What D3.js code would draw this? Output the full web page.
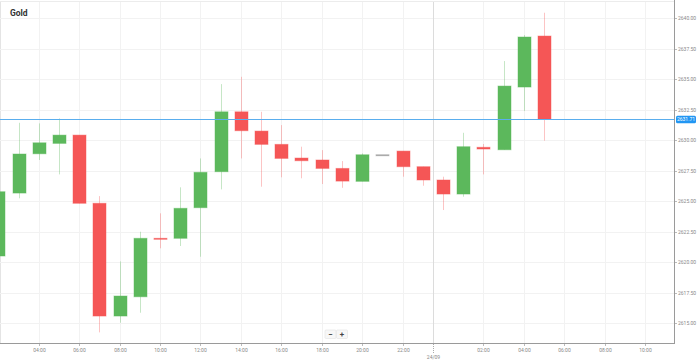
<!DOCTYPE html>
<html>
<head>
<meta charset="utf-8">
<script src="https://cdn.jsdelivr.net/npm/d3@7"></script>
<style>
  body { margin: 0; background: #fff; }
  svg { display: block; font-family: Roboto, "Open Sans", sans-serif; }
</style>
</head>
<body>
<svg id="chart" width="699" height="362"></svg>
<script>
// hourly candles, 23/09 02:00 -> 24/09 05:00
const times = [
  "2024-09-23T02:00", "2024-09-23T03:00", "2024-09-23T04:00", "2024-09-23T05:00",
  "2024-09-23T06:00", "2024-09-23T07:00", "2024-09-23T08:00", "2024-09-23T09:00",
  "2024-09-23T10:00", "2024-09-23T11:00", "2024-09-23T12:00", "2024-09-23T13:00",
  "2024-09-23T14:00", "2024-09-23T15:00", "2024-09-23T16:00", "2024-09-23T17:00",
  "2024-09-23T18:00", "2024-09-23T19:00", "2024-09-23T20:00", "2024-09-23T21:00",
  "2024-09-23T22:00", "2024-09-23T23:00", "2024-09-24T00:00", "2024-09-24T01:00",
  "2024-09-24T02:00", "2024-09-24T03:00", "2024-09-24T04:00", "2024-09-24T05:00"
];
const openP = [2620.52, 2625.68, 2628.90, 2629.75, 2630.43, 2624.84, 2615.60, 2617.18,
  2621.97, 2621.97, 2624.48, 2627.43, 2632.34, 2630.76, 2629.67, 2628.55,
  2628.39, 2627.70, 2626.64, 2628.82, 2629.12, 2627.84, 2626.75, 2625.60,
  2629.43, 2629.23, 2634.37, 2638.55];
const highP = [2625.90, 2631.44, 2631.39, 2631.80, 2630.43, 2625.43, 2620.08, 2622.51,
  2624.02, 2626.15, 2628.52, 2634.61, 2635.21, 2632.34, 2631.25, 2629.48,
  2629.20, 2628.30, 2628.93, 2628.82, 2629.12, 2627.84, 2627.02, 2630.62,
  2629.70, 2636.50, 2638.63, 2640.46];
const lowP = [2620.30, 2625.25, 2628.39, 2627.21, 2624.84, 2614.26, 2615.05, 2615.87,
  2621.15, 2621.34, 2620.46, 2625.98, 2628.52, 2626.20, 2626.97, 2626.89,
  2626.42, 2626.11, 2626.64, 2628.82, 2627.02, 2626.28, 2624.29, 2625.38,
  2627.21, 2629.23, 2632.40, 2629.97];
const closeP = [2625.79, 2628.88, 2629.80, 2630.43, 2624.84, 2615.60, 2617.24, 2621.97,
  2621.90, 2624.43, 2627.38, 2632.34, 2630.79, 2629.67, 2628.52, 2628.33,
  2627.70, 2626.66, 2628.82, 2628.82, 2627.84, 2626.75, 2625.60, 2629.48,
  2629.29, 2634.45, 2638.47, 2631.71];

const yTicks = [2615, 2617.5, 2620, 2622.5, 2625, 2627.5, 2630, 2632.5, 2635, 2637.5, 2640];
const xTicks = [
  "2024-09-23T04:00", "2024-09-23T06:00", "2024-09-23T08:00", "2024-09-23T10:00",
  "2024-09-23T12:00", "2024-09-23T14:00", "2024-09-23T16:00", "2024-09-23T18:00",
  "2024-09-23T20:00", "2024-09-23T22:00", "2024-09-24T02:00", "2024-09-24T04:00",
  "2024-09-24T06:00", "2024-09-24T08:00", "2024-09-24T10:00"
];
const dayMark = { time: "2024-09-23T23:30", label: "24/09" };
const lastPrice = 2631.71;

const svg = d3.select("#chart");
const plot = { left: 0, right: 674, top: 2, bottom: 343 };

const parse = d3.timeParse("%Y-%m-%dT%H:%M");
const data = times.map((t, i) => ({
  t: parse(t), o: openP[i], h: highP[i], l: lowP[i], c: closeP[i]
}));

const x = d3.scaleTime()
  .domain([parse("2024-09-23T02:05"), parse("2024-09-24T11:26")])
  .range([plot.left, plot.right]);
const y = d3.scaleLinear()
  .domain([2613.39, 2641.34])
  .range([plot.bottom, plot.top]);

const candleW = 13;
const green = "#5cb85c", red = "#f55656", flat = "#9e9e9e";
const colorOf = (d) => (d.c > d.o ? green : d.c < d.o ? red : flat);

svg.append("defs").append("clipPath").attr("id", "clip")
  .append("rect")
  .attr("x", plot.left).attr("y", plot.top)
  .attr("width", plot.right - plot.left).attr("height", plot.bottom - plot.top);

// frame
svg.append("line")
  .attr("x1", 0).attr("x2", plot.right).attr("y1", 1.5).attr("y2", 1.5)
  .attr("stroke", "#ececec");
svg.append("line")
  .attr("x1", 0.5).attr("x2", 0.5).attr("y1", plot.top).attr("y2", plot.bottom)
  .attr("stroke", "#e4e4e4");

// grid
const grid = svg.append("g");
grid.selectAll("line.h")
  .data(yTicks)
  .join("line")
  .attr("class", "h")
  .attr("x1", plot.left).attr("x2", plot.right)
  .attr("y1", (d) => Math.round(y(d)) + 0.5).attr("y2", (d) => Math.round(y(d)) + 0.5)
  .attr("stroke", "#f2f2f2");
grid.selectAll("line.v")
  .data(xTicks.map(parse))
  .join("line")
  .attr("class", "v")
  .attr("x1", (d) => Math.round(x(d)) + 0.5).attr("x2", (d) => Math.round(x(d)) + 0.5)
  .attr("y1", plot.top).attr("y2", plot.bottom)
  .attr("stroke", "#f2f2f2");
grid.append("line")
  .attr("x1", Math.round(x(parse(dayMark.time))) + 0.5)
  .attr("x2", Math.round(x(parse(dayMark.time))) + 0.5)
  .attr("y1", plot.top).attr("y2", plot.bottom)
  .attr("stroke", "#dcdcdc");

// title
svg.append("text")
  .attr("x", 10).attr("y", 15.5)
  .attr("font-size", 8.5).attr("font-weight", "bold").attr("fill", "#333")
  .text("Gold");

// candles
const candles = svg.append("g").attr("clip-path", "url(#clip)")
  .selectAll("g")
  .data(data)
  .join("g");

candles.append("line")
  .attr("x1", (d) => Math.round(x(d.t)) + 0.5)
  .attr("x2", (d) => Math.round(x(d.t)) + 0.5)
  .attr("y1", (d) => y(d.h))
  .attr("y2", (d) => y(d.l))
  .attr("stroke", colorOf)
  .attr("stroke-opacity", 0.35);

candles.append("rect")
  .attr("x", (d) => Math.round(x(d.t)) - Math.floor(candleW / 2))
  .attr("y", (d) => y(Math.max(d.o, d.c)))
  .attr("width", candleW)
  .attr("height", (d) => Math.max(1, y(Math.min(d.o, d.c)) - y(Math.max(d.o, d.c))))
  .attr("fill", colorOf)
  .attr("stroke", colorOf)
  .attr("stroke-opacity", 0.45)
  .attr("stroke-width", 1);

// last price line
svg.append("rect")
  .attr("x", plot.left).attr("width", plot.right - plot.left)
  .attr("y", Math.round(y(lastPrice))).attr("height", 1)
  .attr("fill", "#5aaeee");

// y axis on the right
const yAxis = svg.append("g")
  .attr("transform", `translate(${plot.right},0)`);
yAxis.append("line")
  .attr("x1", 0.5).attr("x2", 0.5).attr("y1", 0).attr("y2", plot.bottom)
  .attr("stroke", "#9a9a9a");
const yt = yAxis.selectAll("g.tick")
  .data(yTicks)
  .join("g")
  .attr("class", "tick")
  .attr("transform", (d) => `translate(0,${Math.round(y(d)) + 0.5})`);
yt.append("line").attr("x1", 1).attr("x2", 3).attr("stroke", "#bbb");
yt.append("text")
  .attr("x", 4).attr("dy", "0.35em")
  .attr("font-size", 5).attr("fill", "#888")
  .text((d) => d3.format(".2f")(d));

// last price badge
const badge = yAxis.append("g")
  .attr("transform", `translate(0,${Math.round(y(lastPrice)) + 0.5})`);
badge.append("rect")
  .attr("x", 2).attr("y", -3.8).attr("width", 20).attr("height", 7.6).attr("rx", 1.5)
  .attr("fill", "#2196f3");
badge.append("text")
  .attr("x", 12).attr("dy", "0.35em").attr("text-anchor", "middle")
  .attr("font-size", 5).attr("fill", "#fff")
  .text(d3.format(".2f")(lastPrice));

// x axis
const xAxis = svg.append("g").attr("transform", `translate(0,${plot.bottom})`);
xAxis.append("line")
  .attr("x1", 0).attr("x2", plot.right + 1).attr("y1", 0.5).attr("y2", 0.5)
  .attr("stroke", "#9a9a9a");
const xt = xAxis.selectAll("g.tick")
  .data(xTicks.map(parse))
  .join("g")
  .attr("class", "tick")
  .attr("transform", (d) => `translate(${Math.round(x(d)) + 0.5},0)`);
xt.append("line").attr("y1", 1).attr("y2", 3).attr("stroke", "#bbb");
xt.append("text")
  .attr("y", 8.5).attr("text-anchor", "middle")
  .attr("font-size", 5).attr("fill", "#888")
  .text(d3.timeFormat("%H:%M"));

const dm = xAxis.append("g")
  .attr("transform", `translate(${Math.round(x(parse(dayMark.time))) + 0.5},0)`);
dm.append("line").attr("y1", 1).attr("y2", 10)
  .attr("stroke", "#aaa").attr("stroke-dasharray", "1,1");
dm.append("text")
  .attr("y", 15.5).attr("text-anchor", "middle")
  .attr("font-size", 5).attr("fill", "#888")
  .text(dayMark.label);

// zoom buttons
const zoomBtns = svg.append("g").attr("transform", "translate(325,330)");
["−", "+"].forEach((s, i) => {
  const b = zoomBtns.append("g").attr("transform", `translate(${i * 11.5},0)`);
  b.append("rect")
    .attr("width", 11).attr("height", 8.5).attr("rx", 1)
    .attr("fill", "#f7f7f7").attr("stroke", "#e2e2e2").attr("stroke-width", 0.6);
  b.append("text")
    .attr("x", 5.5).attr("y", 4.6).attr("dy", "0.35em").attr("text-anchor", "middle")
    .attr("font-size", 8).attr("font-weight", "bold").attr("fill", "#444")
    .text(s);
});
</script>
</body>
</html>
